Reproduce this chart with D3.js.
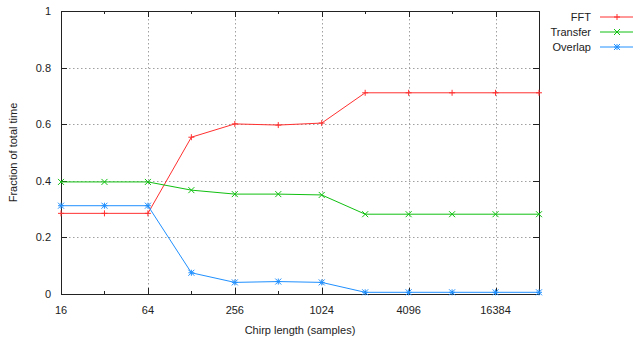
<!DOCTYPE html>
<html>
<head>
<meta charset="utf-8">
<script src="https://cdn.jsdelivr.net/npm/d3@7"></script>
<style>
  body { margin: 0; background: #fff; }
  text { font-family: "Liberation Sans", Arial, sans-serif; font-size: 11px; fill: #222; }
</style>
</head>
<body>
<div id="chart"></div>
<script>
// chirp lengths (samples) and the three fractions
const chirpLengths = [16, 32, 64, 128, 256, 512, 1024, 2048, 4096, 8192, 16384, 32768];
const fftFrac      = [0.285, 0.285, 0.285, 0.554, 0.601, 0.597, 0.604, 0.711, 0.711, 0.711, 0.711, 0.711];
const transferFrac = [0.396, 0.396, 0.396, 0.367, 0.353, 0.353, 0.350, 0.282, 0.282, 0.282, 0.282, 0.282];
const overlapFrac  = [0.312, 0.312, 0.312, 0.075, 0.041, 0.044, 0.041, 0.006, 0.006, 0.006, 0.006, 0.006];
const xMajorTicks = [16, 64, 256, 1024, 4096, 16384];
const xMinorTicks = [32, 128, 512, 2048, 8192, 32768];
const yTicks = [0, 0.2, 0.4, 0.6, 0.8, 1];

const seriesNames = ["FFT", "Transfer", "Overlap"];
const seriesColors = ["#ff3030", "#10c010", "#2090ff"];
const seriesValues = [fftFrac, transferFrac, overlapFrac];

const W = 633, H = 337;
const margin = {top: 11, right: 94, bottom: 43, left: 61};
const width = W - margin.left - margin.right,
      height = H - margin.top - margin.bottom;

const svg = d3.select("#chart").append("svg")
    .attr("width", W).attr("height", H);
const g = svg.append("g")
    .attr("transform", `translate(${margin.left},${margin.top})`);

const x = d3.scaleLog().base(2).domain([16, 32768]).range([0, width]);
const y = d3.scaleLinear().domain([0, 1]).range([height, 0]);

// grid
g.append("g").selectAll("line")
  .data(yTicks.filter(d => d > 0 && d < 1))
  .join("line")
    .attr("x1", 0).attr("x2", width)
    .attr("y1", d => Math.round(y(d)) + 0.5).attr("y2", d => Math.round(y(d)) + 0.5)
    .attr("stroke", "#a0a0a0").attr("stroke-dasharray", "1.5,2.5");
g.append("g").selectAll("line")
  .data(xMajorTicks.filter(d => d > 16))
  .join("line")
    .attr("x1", d => Math.round(x(d)) + 0.5).attr("x2", d => Math.round(x(d)) + 0.5)
    .attr("y1", 0).attr("y2", height)
    .attr("stroke", "#a0a0a0").attr("stroke-dasharray", "1.5,2.5");

// ticks on all four sides
const tickG = g.append("g").attr("stroke", "#222");
xMajorTicks.concat(xMinorTicks).forEach(v => {
  const len = xMajorTicks.includes(v) ? 6 : 3;
  const px = Math.round(x(v)) + 0.5;
  tickG.append("line").attr("x1", px).attr("x2", px).attr("y1", height).attr("y2", height - len);
  tickG.append("line").attr("x1", px).attr("x2", px).attr("y1", 0).attr("y2", len);
});
yTicks.forEach(v => {
  const py = Math.round(y(v)) + 0.5;
  tickG.append("line").attr("x1", 0).attr("x2", 6).attr("y1", py).attr("y2", py);
  tickG.append("line").attr("x1", width).attr("x2", width - 6).attr("y1", py).attr("y2", py);
});

// tick labels
g.append("g").selectAll("text")
  .data(xMajorTicks)
  .join("text")
    .attr("x", d => x(d))
    .attr("y", height + 20)
    .attr("text-anchor", "middle")
    .text(d => d);
g.append("g").selectAll("text")
  .data(yTicks)
  .join("text")
    .attr("x", -10)
    .attr("y", d => y(d) + 4)
    .attr("text-anchor", "end")
    .text(d => d);

// border
g.append("rect")
  .attr("x", 0.5).attr("y", 0.5)
  .attr("width", width).attr("height", height)
  .attr("fill", "none").attr("stroke", "#222");

// axis labels
g.append("text")
  .attr("x", width / 2)
  .attr("y", height + 40)
  .attr("text-anchor", "middle")
  .text("Chirp length (samples)");
g.append("text")
  .attr("transform", `translate(${-44},${height / 2}) rotate(-90)`)
  .attr("text-anchor", "middle")
  .text("Fraction of total time");

// point markers: +, x, *
function marker(sel, type, color) {
  const s = 3;
  const p = sel.append("path")
    .attr("fill", "none").attr("stroke", color).attr("stroke-width", 1);
  let d = "";
  if (type === 0 || type === 2) d += `M${-s},0H${s}M0,${-s}V${s}`;
  if (type === 1 || type === 2) d += `M${-s},${-s}L${s},${s}M${-s},${s}L${s},${-s}`;
  p.attr("d", d);
}

const line = d3.line()
  .x(d => x(d[0]))
  .y(d => y(d[1]));

seriesValues.forEach((vals, i) => {
  const pts = chirpLengths.map((c, j) => [c, vals[j]]);
  g.append("path")
    .datum(pts)
    .attr("fill", "none")
    .attr("stroke", seriesColors[i])
    .attr("stroke-width", 1)
    .attr("d", line);
  g.append("g").selectAll("g")
    .data(pts)
    .join("g")
      .attr("transform", d => `translate(${x(d[0])},${y(d[1])})`)
      .each(function() { marker(d3.select(this), i, seriesColors[i]); });
});

// legend
const legend = svg.append("g")
  .selectAll("g")
  .data(seriesNames)
  .join("g")
    .attr("transform", (d, i) => `translate(0,${17 + i * 15})`);
legend.append("text")
  .attr("x", 591)
  .attr("y", 4)
  .attr("text-anchor", "end")
  .text(d => d);
legend.append("line")
  .attr("x1", 600).attr("x2", 633)
  .attr("y1", 0).attr("y2", 0)
  .attr("stroke", (d, i) => seriesColors[i]);
legend.append("g")
  .attr("transform", "translate(617,0)")
  .each(function(d, i) { marker(d3.select(this), i, seriesColors[i]); });
</script>
</body>
</html>
